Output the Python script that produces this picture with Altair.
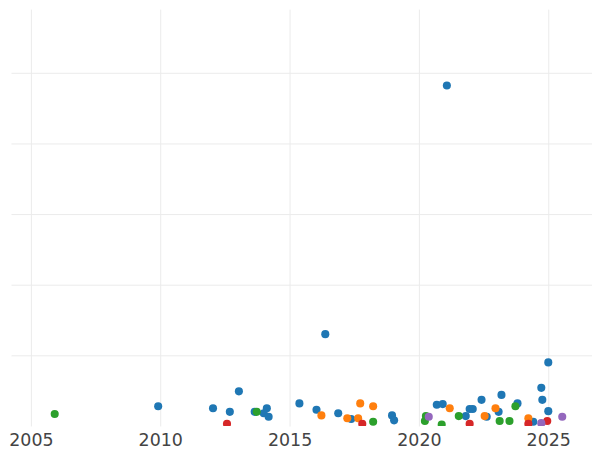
import altair as alt
import pandas as pd

# Series values: (year, value)
blue_year = [2009.92, 2012.04, 2012.69, 2013.04, 2013.65, 2014.12, 2014.00, 2014.19, 2015.38,
             2016.04, 2016.88, 2017.38, 2018.96, 2019.04, 2020.69, 2020.92, 2021.81, 2021.96,
             2022.08, 2022.42, 2022.62, 2023.08, 2023.19, 2023.81, 2024.42, 2024.73, 2024.77,
             2025.00, 2025.00, 2016.38, 2021.08]
blue_val = [0.28, 0.25, 0.20, 0.49, 0.20, 0.25, 0.18, 0.13, 0.32,
            0.23, 0.18, 0.10, 0.15, 0.08, 0.30, 0.31, 0.14, 0.24,
            0.24, 0.37, 0.13, 0.20, 0.44, 0.32, 0.06, 0.54, 0.37,
            0.21, 0.90, 1.30, 4.82]

orange_year = [2016.23, 2017.23, 2017.73, 2017.65, 2018.23, 2021.19, 2022.54, 2022.96, 2024.23]
orange_val = [0.15, 0.11, 0.32, 0.11, 0.28, 0.25, 0.14, 0.25, 0.11]

green_year = [2005.92, 2013.73, 2018.23, 2020.27, 2020.23, 2020.88, 2021.54, 2023.12, 2023.50, 2023.73]
green_val = [0.17, 0.20, 0.06, 0.14, 0.07, 0.02, 0.14, 0.07, 0.07, 0.28]

red_year = [2012.58, 2017.81, 2021.96, 2024.23, 2024.96]
red_val = [0.03, 0.03, 0.03, 0.03, 0.07]

purple_year = [2020.38, 2024.73, 2025.54]
purple_val = [0.13, 0.04, 0.13]

categories = ["A", "B", "C", "D", "E"]
colors = ["#1f77b4", "#ff7f0e", "#2ca02c", "#d62728", "#9467bd"]
x_ticks = [2005, 2010, 2015, 2020, 2025]
y_grid = [1, 2, 3, 4, 5]

rows = []
for cat, ys, vs in zip(categories,
                       [blue_year, orange_year, green_year, red_year, purple_year],
                       [blue_val, orange_val, green_val, red_val, purple_val]):
    for y, v in zip(ys, vs):
        rows.append({"year": y, "value": v, "cat": cat, "order": categories.index(cat)})
df = pd.DataFrame(rows)

chart = alt.Chart(df).mark_circle(size=66, opacity=1, clip=True).encode(
    x=alt.X("year:Q", title=None,
            scale=alt.Scale(domain=[2004.23, 2026.69], nice=False, zero=False),
            axis=alt.Axis(values=x_ticks, format="d", grid=True, domain=False, ticks=False,
                          labelFontSize=17.5, labelFont="DejaVu Sans", labelColor="#444444",
                          labelPadding=6, gridColor="#ebebeb", labelFlush=False)),
    y=alt.Y("value:Q", title=None,
            scale=alt.Scale(domain=[0, 5.9], nice=False, zero=True),
            axis=alt.Axis(values=y_grid, labels=False, ticks=False, domain=False,
                          grid=True, gridColor="#ebebeb")),
    color=alt.Color("cat:N", legend=None,
                    scale=alt.Scale(domain=categories, range=colors)),
    order=alt.Order("order:Q"),
).properties(width=584, height=419, padding=0).configure_view(strokeWidth=0)

chart.save("out.html", embed_options={"renderer": "svg", "actions": False})
